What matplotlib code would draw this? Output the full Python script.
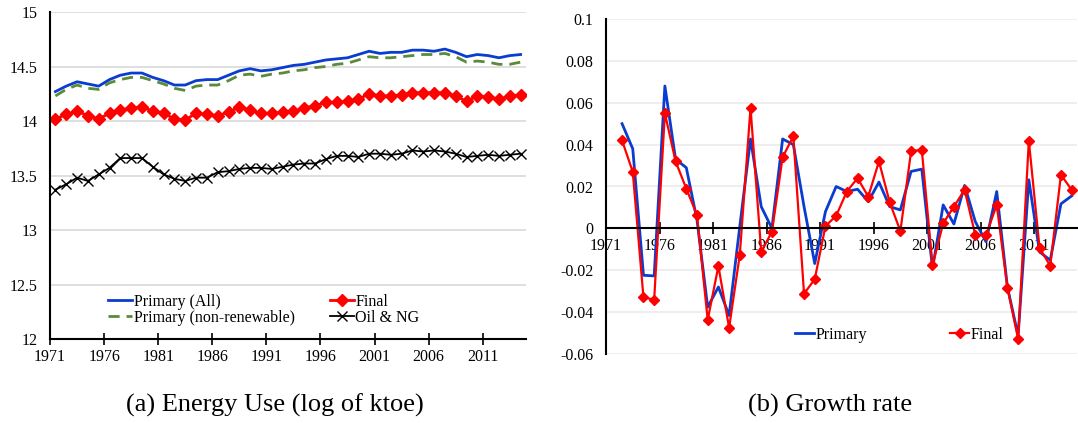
import matplotlib.pyplot as plt
import numpy as np

years = list(range(1971, 2015))

# (a) log of ktoe
primary_all = [14.27, 14.32, 14.36, 14.34, 14.32, 14.38, 14.42, 14.44, 14.44, 14.40,
               14.37, 14.33, 14.33, 14.37, 14.38, 14.38, 14.42, 14.46, 14.48, 14.46,
               14.47, 14.49, 14.51, 14.52, 14.54, 14.56, 14.57, 14.58, 14.61, 14.64,
               14.62, 14.63, 14.63, 14.65, 14.65, 14.64, 14.66, 14.63, 14.59, 14.61,
               14.60, 14.58, 14.60, 14.61]
primary_nonren = [14.23, 14.29, 14.33, 14.30, 14.29, 14.35, 14.38, 14.40, 14.40, 14.37,
                  14.34, 14.30, 14.28, 14.32, 14.33, 14.33, 14.37, 14.42, 14.43, 14.41,
                  14.43, 14.44, 14.46, 14.47, 14.49, 14.50, 14.52, 14.53, 14.56, 14.59,
                  14.58, 14.58, 14.59, 14.60, 14.61, 14.61, 14.62, 14.59, 14.54, 14.55,
                  14.54, 14.52, 14.52, 14.54]
final = [14.02, 14.06, 14.09, 14.05, 14.02, 14.07, 14.10, 14.12, 14.13, 14.09,
         14.07, 14.02, 14.01, 14.07, 14.06, 14.05, 14.08, 14.13, 14.10, 14.07,
         14.07, 14.08, 14.09, 14.12, 14.14, 14.17, 14.17, 14.18, 14.20, 14.25,
         14.23, 14.23, 14.24, 14.26, 14.26, 14.26, 14.26, 14.23, 14.18, 14.23,
         14.22, 14.20, 14.23, 14.24]
oil_ng = [13.37, 13.42, 13.48, 13.45, 13.51, 13.57, 13.66, 13.66, 13.66, 13.58,
          13.51, 13.47, 13.45, 13.48, 13.48, 13.53, 13.54, 13.56, 13.57, 13.57,
          13.56, 13.58, 13.60, 13.61, 13.61, 13.65, 13.68, 13.68, 13.67, 13.70,
          13.70, 13.69, 13.70, 13.73, 13.72, 13.73, 13.72, 13.70, 13.67, 13.68,
          13.69, 13.68, 13.69, 13.70]

# (b) growth rates, 1972-2014
growth_primary = [0.050, 0.038, -0.0224, -0.0227, 0.068, 0.033, 0.029, 0.004, -0.0376,
                  -0.028, -0.0416, 0.001, 0.0427, 0.0104, 0.0, 0.0427, 0.040, 0.0104,
                  -0.0168, 0.008, 0.020, 0.0176, 0.0187, 0.0128, 0.0221, 0.0104, 0.0088,
                  0.0272, 0.0283, -0.0192, 0.0112, 0.0021, 0.0205, 0.0032, -0.0064,
                  0.0176, -0.028, -0.0512, 0.0232, -0.0112, -0.0152, 0.0117, 0.0155]
growth_final = [0.042, 0.027, -0.033, -0.034, 0.055, 0.032, 0.019, 0.0064, -0.0437,
                -0.018, -0.0475, -0.0125, 0.0576, -0.0112, -0.0016, 0.034, 0.044, -0.0312,
                -0.0243, 0.0011, 0.006, 0.0176, 0.024, 0.0152, 0.032, 0.0125, -0.0013,
                0.0368, 0.0376, -0.0176, 0.0024, 0.0104, 0.0184, -0.0032, -0.0032,
                0.0112, -0.0283, -0.0528, 0.0419, -0.0093, -0.0179, 0.0256, 0.0184]

plt.rcParams['font.family'] = ['Liberation Serif', 'DejaVu Serif']
plt.rcParams['font.size'] = 11.5

blue = '#0a3ccf'
green = '#5a8a3a'
red = '#ff0000'
grid_c = '#d9d9d9'

fig = plt.figure(figsize=(10.78, 4.23), dpi=100)

# ---------- (a) ----------
ax1 = fig.add_axes([50 / 1078, 1 - 339 / 423, 476 / 1078, 327 / 423])
x = np.arange(len(years)) + 0.5
ax1.plot(x, primary_all, color=blue, lw=2.0, label='Primary (All)')
ax1.plot(x, primary_nonren, color=green, lw=2.0, ls=(0, (4, 2.5)), label='Primary (non-renewable)')
ax1.plot(x, final, color=red, lw=2.0, marker='D', ms=6, label='Final')
ax1.plot(x, oil_ng, color='black', lw=1.3, marker='x', ms=7, mew=1.0, label='Oil & NG')

ax1.set_xlim(0, len(years))
ax1.set_ylim(12, 15)
ax1.set_yticks(np.arange(12, 15.01, 0.5))
ax1.set_yticklabels(['12', '12.5', '13', '13.5', '14', '14.5', '15'])
ax1.set_xticks(np.arange(0, len(years), 5))
ax1.set_xticklabels([str(years[i]) for i in range(0, len(years), 5)])
ax1.tick_params(axis='x', direction='inout', length=8, width=1.2, pad=3)
ax1.tick_params(axis='y', length=0, pad=9)
ax1.yaxis.grid(True, color=grid_c, lw=1.2)
ax1.set_axisbelow(True)
for s in ['top', 'right']:
    ax1.spines[s].set_visible(False)
for s in ['left', 'bottom']:
    ax1.spines[s].set_linewidth(1.5)

fig.legend(handles=ax1.get_lines(), loc='upper left', bbox_to_anchor=(108 / 1078, 1 - 294 / 423),
           ncol=2, frameon=False, handlelength=1.5, handletextpad=0.1, columnspacing=2.2,
           labelspacing=0.0, borderpad=0, borderaxespad=0)

# ---------- (b) ----------
ax2 = fig.add_axes([606 / 1078, 1 - 354 / 423, 471 / 1078, 335 / 423])
xg = np.arange(1, len(years)) + 0.5
l1, = ax2.plot(xg, growth_primary, color=blue, lw=2.0, label='Primary')
l2, = ax2.plot(xg, growth_final, color=red, lw=1.6, marker='D', ms=5, label='Final')

ax2.set_xlim(0, len(years))
ax2.set_ylim(-0.06, 0.1)
yt = np.arange(-0.06, 0.101, 0.02)
ax2.set_yticks(yt)
ax2.set_yticklabels(['-0.06', '-0.04', '-0.02', '0', '0.02', '0.04', '0.06', '0.08', '0.1'])
ax2.set_xticks(np.arange(0, len(years), 5))
ax2.set_xticklabels([str(years[i]) for i in range(0, len(years), 5)])
ax2.spines['bottom'].set_position(('data', 0))
ax2.tick_params(axis='x', direction='inout', length=8, width=1.2, pad=3)
ax2.tick_params(axis='y', length=0, pad=9)
ax2.yaxis.grid(True, color='#ebebeb', lw=1.2)
ax2.set_axisbelow(True)
for s in ['top', 'right']:
    ax2.spines[s].set_visible(False)
for s in ['left', 'bottom']:
    ax2.spines[s].set_linewidth(1.5)

fig.legend(handles=[l1, l2], loc='center left', bbox_to_anchor=(795 / 1078, 1 - 335 / 423),
           ncol=2, frameon=False, handlelength=1.2, handletextpad=0.1, columnspacing=5.2,
           borderpad=0, borderaxespad=0)

fig.text(275 / 1078, 1 - 405 / 423, '(a) Energy Use (log of ktoe)', ha='center', va='center', fontsize=19)
fig.text(830 / 1078, 1 - 405 / 423, '(b) Growth rate', ha='center', va='center', fontsize=19)

fig.savefig('out.png', dpi=100)
